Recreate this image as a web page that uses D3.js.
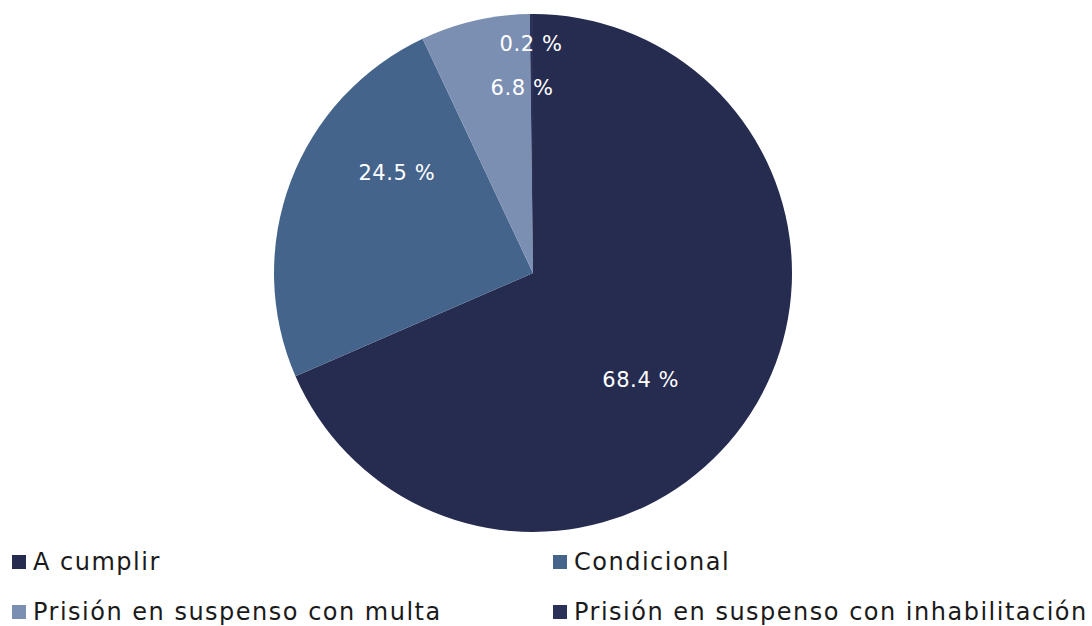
<!DOCTYPE html>
<html>
<head>
<meta charset="utf-8">
<script src="https://cdn.jsdelivr.net/npm/d3@7"></script>
<style>
  html, body { margin: 0; padding: 0; background: #ffffff; }
  svg { display: block; }
</style>
</head>
<body>
<svg id="chart" width="1092" height="626"></svg>
<script>
// Sentence categories and their share of the total (%)
const categories = [
  "A cumplir",
  "Condicional",
  "Prisión en suspenso con multa",
  "Prisión en suspenso con inhabilitación"
];
const shares = [68.4, 24.5, 6.8, 0.2];
const valueLabels = ["68.4 %", "24.5 %", "6.8 %", "0.2 %"];

// Slice colours
const colors = ["#262b50", "#44648b", "#7b8fb3", "#2b3158"];

// Label anchors: angle (degrees clockwise from 12 o'clock) and radius fraction
const labelAnchors = [
  [134.7, 0.585],
  [306.3, 0.652],
  [356.6, 0.715],
  [359.5, 0.885]
];

const width = 1092, height = 626;
const cx = 533, cy = 273, radius = 259;
const font = "'DejaVu Sans', sans-serif";

const svg = d3.select("#chart");

const pie = d3.pie().sort(null).value(d => d);
const arcs = pie(shares);
const arc = d3.arc().innerRadius(0).outerRadius(radius);

const g = svg.append("g").attr("transform", `translate(${cx},${cy})`);

g.selectAll("path.slice")
  .data(arcs)
  .join("path")
  .attr("class", "slice")
  .attr("d", arc)
  .attr("fill", (d, i) => colors[i]);

g.selectAll("text.value")
  .data(arcs)
  .join("text")
  .attr("class", "value")
  .attr("x", (d, i) => Math.sin(labelAnchors[i][0] * Math.PI / 180) * labelAnchors[i][1] * radius)
  .attr("y", (d, i) => -Math.cos(labelAnchors[i][0] * Math.PI / 180) * labelAnchors[i][1] * radius)
  .attr("text-anchor", "middle")
  .attr("dominant-baseline", "central")
  .attr("fill", "#ffffff")
  .attr("font-family", font)
  .attr("font-size", 21)
  .attr("letter-spacing", 0.6)
  .text((d, i) => valueLabels[i]);

// Legend: two columns, two rows
const legendCols = d3.scaleOrdinal().domain([0, 1]).range([12, 553]);
const legendRows = d3.scaleOrdinal().domain([0, 1]).range([562, 612]);

const legend = svg.append("g").attr("class", "legend");
const items = legend.selectAll("g.item")
  .data(categories)
  .join("g")
  .attr("class", "item")
  .attr("transform", (d, i) => `translate(${legendCols(i % 2)},${legendRows(Math.floor(i / 2))})`);

items.append("rect")
  .attr("x", 0)
  .attr("y", -7)
  .attr("width", 14)
  .attr("height", 14)
  .attr("fill", (d, i) => colors[i]);

items.append("text")
  .attr("x", 21)
  .attr("y", 0)
  .attr("dominant-baseline", "central")
  .attr("fill", "#1a1a1a")
  .attr("font-family", font)
  .attr("font-size", 24)
  .attr("letter-spacing", 1.5)
  .text(d => d);
</script>
</body>
</html>
